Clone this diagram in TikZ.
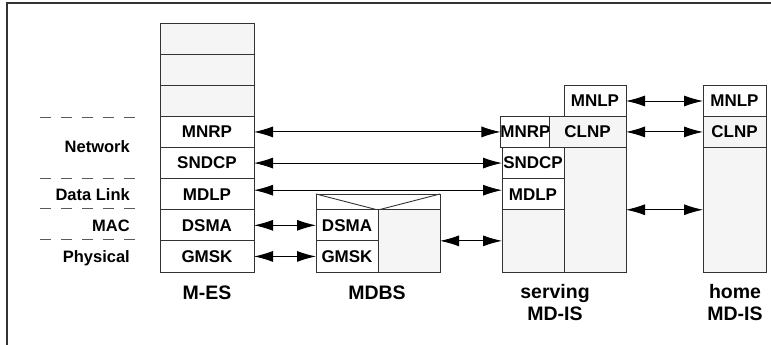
\documentclass[tikz,border=0pt]{standalone}
\usepackage{fontspec}
\setmainfont{Liberation Sans}
\usetikzlibrary{arrows.meta}

\begin{document}
\begin{tikzpicture}[x=1pt,y=-1pt,
  layer/.style={draw=black!80,line width=0.9pt,fill=white,inner sep=0pt,outer sep=0pt,
    minimum height=31.125pt,font=\fontsize{17}{18}\selectfont\bfseries},
  shaded/.style={layer,fill=black!4},
  link/.style={{Latex[length=19pt,width=11pt]}-{Latex[length=19pt,width=11pt]},line width=0.9pt},
  tag/.style={font=\fontsize{16.5}{18}\selectfont\bfseries,inner sep=0pt},
  divider/.style={black!65,line width=0.9pt,dash pattern=on 11pt off 10pt},
  station/.style={font=\fontsize{19.5}{22}\selectfont\bfseries,align=center,inner sep=0pt}]

\useasboundingbox (0,0) rectangle (771,345);
\draw[black!80,line width=1.5pt] (7,345) -- (7,3) -- (771,3);

% layer names
\draw[divider] (40,117) -- (145,117);
\draw[divider] (40,178) -- (145,178);
\draw[divider] (40,208.5) -- (145,208.5);
\draw[divider] (40,239) -- (145,239);
\node[tag,anchor=base east] (net) at (130,152.5) {Network};
\node[tag,anchor=base east] (dl) at (130,200) {Data Link};
\node[tag,anchor=base east] (mac) at (130,231.5) {MAC};
\node[tag,anchor=base east] (phy) at (130,262) {Physical};

% M-ES
\foreach \i in {0,1,2}
  \node[shaded,minimum width=94pt] (mes-e\i) at (207,38.56+31.125*\i) {};
\node[layer,minimum width=94pt] (mes-mnrp) at (207,131.94) {MNRP};
\node[layer,minimum width=94pt] (mes-sndcp) at (207,163.06) {SNDCP};
\node[layer,minimum width=94pt] (mes-mdlp) at (207,194.19) {MDLP};
\node[layer,minimum width=94pt] (mes-dsma) at (207,225.31) {DSMA};
\node[layer,minimum width=94pt] (mes-gmsk) at (207,256.44) {GMSK};
\node[station,anchor=base] (mes-name) at (207,299) {M-ES};

% MDBS
\node[layer,minimum width=124pt,minimum height=16pt] (bs-top) at (378,202) {};
\draw[black!80,line width=0.9pt] (bs-top.north west) -- (bs-top.south) -- (bs-top.north east);
\node[layer,minimum width=62pt] (bs-dsma) at (347,225.31) {DSMA};
\node[layer,minimum width=62pt] (bs-gmsk) at (347,256.44) {GMSK};
\node[shaded,minimum width=62pt,minimum height=62.25pt] (bs-core) at (409,240.87) {};
\node[station,anchor=base] (bs-name) at (377,299) {MDBS};

% serving MD-IS
\node[layer,minimum width=62pt,minimum height=32pt] (srv-mnlp) at (595,101) {MNLP};
\node[layer,minimum width=47pt] (srv-mnrp) at (525.5,131.94) {MNRP};
\node[shaded,minimum width=77pt] (srv-clnp) at (587.5,131.94) {CLNP};
\node[layer,minimum width=62pt] (srv-sndcp) at (533,163.06) {SNDCP};
\node[layer,minimum width=62pt] (srv-mdlp) at (533,194.19) {MDLP};
\node[shaded,minimum width=62pt,minimum height=62.25pt] (srv-low) at (533,240.87) {};
\node[shaded,minimum width=62pt,minimum height=124.5pt] (srv-col) at (595,209.75) {};
\node[station,anchor=base] (srv-name) at (555,320) {serving\\MD-IS};

% home MD-IS
\node[layer,minimum width=63pt,minimum height=32pt] (home-mnlp) at (734.5,101) {MNLP};
\node[shaded,minimum width=63pt] (home-clnp) at (734.5,131.94) {CLNP};
\node[shaded,minimum width=63pt,minimum height=124.5pt] (home-low) at (734.5,209.75) {};
\node[station,anchor=base] (home-name) at (735,320) {home\\MD-IS};

% peer links
\draw[link] (mes-mnrp.east) -- (srv-mnrp.west);
\draw[link] (mes-sndcp.east) -- (srv-sndcp.west);
\draw[link] ([yshift=4pt]mes-mdlp.east) -- ([yshift=4pt]srv-mdlp.west);
\draw[link] (mes-dsma.east) -- (bs-dsma.west);
\draw[link] (mes-gmsk.east) -- (bs-gmsk.west);
\draw[link] (bs-core.east) -- (srv-low.west);
\draw[link] (srv-mnlp.east) -- (home-mnlp.west);
\draw[link] (srv-clnp.east) -- (home-clnp.west);
\draw[link] (srv-col.east) -- (home-low.west);
\end{tikzpicture}
\end{document}
